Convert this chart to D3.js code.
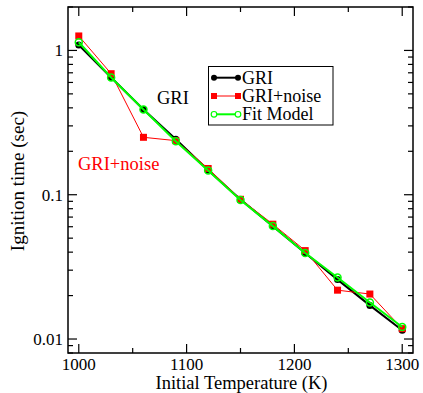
<!DOCTYPE html>
<html><head><meta charset="utf-8">
<script src="https://cdn.jsdelivr.net/npm/d3@7"></script>
<style>body{margin:0;background:#fff}svg{display:block}</style>
</head><body><svg id="c" width="423" height="393" font-family="'Liberation Serif', Tinos, 'Nimbus Roman', 'DejaVu Serif', serif"></svg>
<script>
const temps = [1000,1030,1060,1090,1120,1150,1180,1210,1240,1270,1300];
const gri = [1.09,0.65,0.39,0.242,0.148,0.0928,0.0606,0.0395,0.0258,0.0171,0.0115];
const griNoise = [1.26,0.69,0.25,0.237,0.152,0.093,0.0625,0.041,0.0218,0.0205,0.0118];
const fitModel = [1.14,0.65,0.39,0.235,0.147,0.092,0.0606,0.0395,0.0267,0.0179,0.0121];
const xTicks = [1000,1100,1200,1300];
const xMinor = [1050,1150,1250];
const yTicks = [0.01,0.1,1];
const yTickLabels = ["0.01","0.1","1"];
const seriesNames = ["GRI","GRI+noise","Fit Model"];

const FONT = "'Liberation Serif', Tinos, 'Nimbus Roman', 'DejaVu Serif', serif";
const svg = d3.select("#c");
const L=68, R=413, T=7, B=353;
const x = d3.scaleLinear().domain([990,1310]).range([L,R]);
const y = d3.scaleLog().domain([0.008,2]).range([B,T]);

const yMinor = [];
[0.001,0.01,0.1,1].forEach(d=>{for(let k=2;k<=9;k++){const v=d*k; if(v>=0.008&&v<=2) yMinor.push(v);}});

const g = svg.append("g");
const tk = g.append("g").attr("stroke","#000").attr("stroke-width",1.2);
xTicks.forEach(v=>{
  tk.append("line").attr("x1",x(v)).attr("x2",x(v)).attr("y1",B).attr("y2",B-9);
  tk.append("line").attr("x1",x(v)).attr("x2",x(v)).attr("y1",T).attr("y2",T+9);
});
xMinor.forEach(v=>{
  tk.append("line").attr("x1",x(v)).attr("x2",x(v)).attr("y1",B).attr("y2",B-5);
  tk.append("line").attr("x1",x(v)).attr("x2",x(v)).attr("y1",T).attr("y2",T+5);
});
yTicks.forEach(v=>{
  tk.append("line").attr("x1",L).attr("x2",L+9).attr("y1",y(v)).attr("y2",y(v));
  tk.append("line").attr("x1",R).attr("x2",R-9).attr("y1",y(v)).attr("y2",y(v));
});
yMinor.forEach(v=>{
  tk.append("line").attr("x1",L).attr("x2",L+5).attr("y1",y(v)).attr("y2",y(v));
  tk.append("line").attr("x1",R).attr("x2",R-5).attr("y1",y(v)).attr("y2",y(v));
});
g.append("rect").attr("x",L).attr("y",T).attr("width",R-L).attr("height",B-T)
 .attr("fill","none").attr("stroke","#000").attr("stroke-width",1.5);

function txt(sel){return sel.append("text").attr("font-family",FONT);}
xTicks.forEach(v=>{
  txt(g).attr("x",x(v)).attr("y",369.5).attr("text-anchor","middle")
   .attr("font-size",17).text(v);
});
yTicks.forEach((v,i)=>{
  txt(g).attr("x",63).attr("y",y(v)+6).attr("text-anchor","end")
   .attr("font-size",17).text(yTickLabels[i]);
});
txt(g).attr("x",(L+R)/2+1).attr("y",389).attr("text-anchor","middle")
 .attr("font-size",18.5).text("Initial Temperature (K)");
txt(g).attr("transform","translate(23.5,181) rotate(-90)").attr("text-anchor","middle")
 .attr("font-size",19).text("Ignition time (sec)");

const line = d3.line().x((d,i)=>x(temps[i])).y(d=>y(d));
const plot = g.append("g");

plot.append("path").datum(gri).attr("d",line).attr("fill","none").attr("stroke","#000").attr("stroke-width",2);
plot.selectAll(".pb").data(gri).enter().append("circle")
 .attr("cx",(d,i)=>x(temps[i])).attr("cy",d=>y(d)).attr("r",3.5).attr("fill","#000");
plot.append("path").datum(griNoise).attr("d",line).attr("fill","none").attr("stroke","#ff0000").attr("stroke-width",1);
plot.selectAll(".pr").data(griNoise).enter().append("rect")
 .attr("x",(d,i)=>x(temps[i])-3.5).attr("y",d=>y(d)-3.5).attr("width",7).attr("height",7).attr("fill","#ff0000");
plot.append("path").datum(fitModel).attr("d",line).attr("fill","none").attr("stroke","#00ff00").attr("stroke-width",2);
plot.selectAll(".pg").data(fitModel).enter().append("circle")
 .attr("cx",(d,i)=>x(temps[i])).attr("cy",d=>y(d)).attr("r",3.5).attr("fill","none").attr("stroke","#00ff00").attr("stroke-width",1.5);

txt(g).attr("x",157).attr("y",103.5).attr("font-size",18.5).attr("fill","#000").text("GRI");
txt(g).attr("x",78).attr("y",170).attr("font-size",18.5).attr("fill","#ff0000").text("GRI+noise");

const lg = g.append("g");
lg.append("rect").attr("x",208.5).attr("y",66.5).attr("width",124.5).attr("height",58.5)
 .attr("fill","#fff").attr("stroke","#000").attr("stroke-width",1);
const rowsY = [77.7,96,114.3];
const colors = ["#000","#ff0000","#00ff00"];
const widths = [2,1,2];
seriesNames.forEach((n,i)=>{
  const yy = rowsY[i];
  lg.append("line").attr("x1",214).attr("x2",238).attr("y1",yy).attr("y2",yy)
   .attr("stroke",colors[i]).attr("stroke-width",widths[i]);
  [214,238].forEach(xx=>{
    if(i===0) lg.append("circle").attr("cx",xx).attr("cy",yy).attr("r",3).attr("fill","#000");
    if(i===1) lg.append("rect").attr("x",xx-3).attr("y",yy-3).attr("width",6).attr("height",6).attr("fill","#ff0000");
    if(i===2) lg.append("circle").attr("cx",xx).attr("cy",yy).attr("r",2.8).attr("fill","#fff").attr("stroke","#00ff00").attr("stroke-width",1.2);
  });
  txt(lg).attr("x",242).attr("y",yy+6).attr("font-size",18).text(n);
});
</script></body></html>
